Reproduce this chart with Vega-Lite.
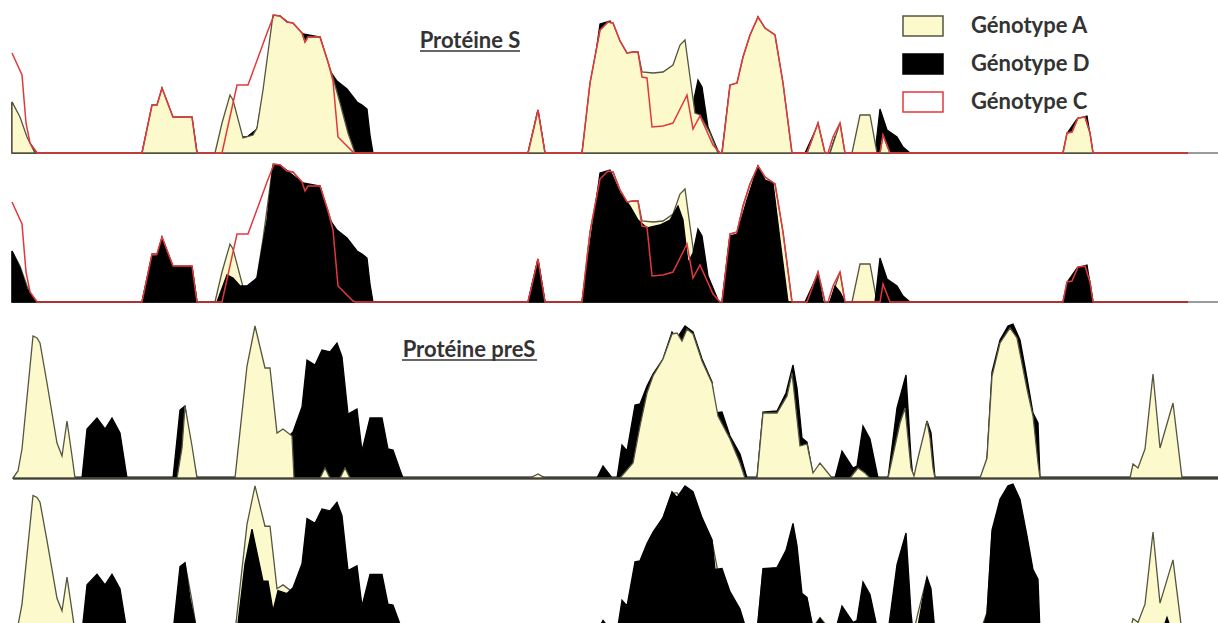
{
"$schema": "https://vega.github.io/schema/vega-lite/v6.json",
"padding": 0,
"background": "white",
"spacing": 0,
"datasets": {
"S_A": [{"pos":12,"v":51},{"pos":20,"v":36},{"pos":27,"v":16},{"pos":35,"v":0},{"pos":142,"v":0},{"pos":152,"v":48},{"pos":157,"v":48},{"pos":162,"v":65},{"pos":173,"v":36},{"pos":192,"v":36},{"pos":197,"v":0},{"pos":215,"v":0},{"pos":222,"v":30},{"pos":230,"v":58},{"pos":233,"v":53},{"pos":243,"v":15},{"pos":253,"v":18},{"pos":257,"v":25},{"pos":263,"v":63},{"pos":273,"v":138},{"pos":280,"v":137},{"pos":287,"v":131},{"pos":293,"v":130},{"pos":302,"v":120},{"pos":305,"v":111},{"pos":308,"v":116},{"pos":320,"v":116},{"pos":328,"v":91},{"pos":333,"v":75},{"pos":340,"v":50},{"pos":348,"v":20},{"pos":355,"v":0},{"pos":528,"v":0},{"pos":538,"v":43},{"pos":545,"v":0},{"pos":582,"v":0},{"pos":590,"v":70},{"pos":600,"v":123},{"pos":608,"v":131},{"pos":613,"v":130},{"pos":620,"v":112},{"pos":627,"v":100},{"pos":633,"v":101},{"pos":638,"v":101},{"pos":642,"v":81},{"pos":653,"v":80},{"pos":663,"v":81},{"pos":673,"v":88},{"pos":680,"v":108},{"pos":685,"v":113},{"pos":690,"v":76},{"pos":695,"v":40},{"pos":700,"v":38},{"pos":710,"v":20},{"pos":718,"v":0},{"pos":722,"v":0},{"pos":730,"v":68},{"pos":737,"v":70},{"pos":743,"v":96},{"pos":750,"v":118},{"pos":758,"v":136},{"pos":765,"v":125},{"pos":775,"v":118},{"pos":783,"v":70},{"pos":792,"v":0},{"pos":807,"v":0},{"pos":818,"v":30},{"pos":825,"v":0},{"pos":830,"v":0},{"pos":835,"v":15},{"pos":840,"v":30},{"pos":845,"v":0},{"pos":852,"v":0},{"pos":860,"v":38},{"pos":870,"v":38},{"pos":877,"v":0},{"pos":880,"v":0},{"pos":883,"v":18},{"pos":890,"v":0},{"pos":1063,"v":0},{"pos":1067,"v":20},{"pos":1072,"v":21},{"pos":1078,"v":35},{"pos":1085,"v":36},{"pos":1090,"v":20},{"pos":1093,"v":0},{"pos":1188,"v":0}],
"S_D": [{"pos":12,"v":51},{"pos":20,"v":34},{"pos":27,"v":13},{"pos":37,"v":0},{"pos":142,"v":0},{"pos":152,"v":46},{"pos":157,"v":46},{"pos":162,"v":64},{"pos":173,"v":35},{"pos":192,"v":35},{"pos":197,"v":0},{"pos":217,"v":0},{"pos":227,"v":27},{"pos":233,"v":24},{"pos":240,"v":16},{"pos":247,"v":16},{"pos":257,"v":24},{"pos":267,"v":82},{"pos":273,"v":136},{"pos":280,"v":137},{"pos":290,"v":129},{"pos":303,"v":119},{"pos":320,"v":116},{"pos":330,"v":82},{"pos":337,"v":72},{"pos":347,"v":64},{"pos":357,"v":51},{"pos":362,"v":48},{"pos":367,"v":44},{"pos":370,"v":18},{"pos":373,"v":0},{"pos":528,"v":0},{"pos":538,"v":43},{"pos":545,"v":0},{"pos":582,"v":0},{"pos":600,"v":129},{"pos":610,"v":132},{"pos":620,"v":109},{"pos":630,"v":96},{"pos":638,"v":82},{"pos":647,"v":74},{"pos":660,"v":77},{"pos":670,"v":82},{"pos":678,"v":96},{"pos":683,"v":82},{"pos":688,"v":39},{"pos":693,"v":49},{"pos":698,"v":73},{"pos":702,"v":66},{"pos":708,"v":26},{"pos":718,"v":2},{"pos":720,"v":0},{"pos":722,"v":0},{"pos":730,"v":66},{"pos":737,"v":68},{"pos":747,"v":102},{"pos":758,"v":136},{"pos":765,"v":122},{"pos":773,"v":119},{"pos":780,"v":62},{"pos":788,"v":0},{"pos":805,"v":0},{"pos":818,"v":28},{"pos":823,"v":0},{"pos":830,"v":0},{"pos":835,"v":16},{"pos":840,"v":10},{"pos":845,"v":0},{"pos":875,"v":0},{"pos":880,"v":44},{"pos":887,"v":23},{"pos":897,"v":16},{"pos":903,"v":6},{"pos":910,"v":0},{"pos":1063,"v":0},{"pos":1068,"v":21},{"pos":1077,"v":34},{"pos":1087,"v":37},{"pos":1093,"v":0},{"pos":1188,"v":0}],
"S_C": [{"pos":12,"v":100},{"pos":22,"v":78},{"pos":26,"v":30},{"pos":30,"v":10},{"pos":37,"v":0},{"pos":142,"v":0},{"pos":152,"v":48},{"pos":157,"v":48},{"pos":162,"v":65},{"pos":173,"v":36},{"pos":192,"v":36},{"pos":197,"v":0},{"pos":222,"v":0},{"pos":237,"v":68},{"pos":248,"v":68},{"pos":267,"v":120},{"pos":274,"v":138},{"pos":280,"v":137},{"pos":287,"v":131},{"pos":293,"v":130},{"pos":302,"v":120},{"pos":305,"v":111},{"pos":308,"v":116},{"pos":320,"v":116},{"pos":328,"v":91},{"pos":333,"v":72},{"pos":338,"v":16},{"pos":353,"v":1},{"pos":356,"v":0},{"pos":528,"v":0},{"pos":538,"v":43},{"pos":545,"v":0},{"pos":582,"v":0},{"pos":590,"v":70},{"pos":600,"v":123},{"pos":608,"v":131},{"pos":613,"v":130},{"pos":620,"v":112},{"pos":627,"v":100},{"pos":633,"v":101},{"pos":638,"v":101},{"pos":642,"v":76},{"pos":647,"v":75},{"pos":652,"v":26},{"pos":663,"v":27},{"pos":673,"v":30},{"pos":687,"v":58},{"pos":693,"v":24},{"pos":700,"v":37},{"pos":713,"v":8},{"pos":720,"v":0},{"pos":722,"v":0},{"pos":730,"v":68},{"pos":737,"v":70},{"pos":743,"v":96},{"pos":750,"v":118},{"pos":758,"v":136},{"pos":765,"v":125},{"pos":775,"v":118},{"pos":783,"v":70},{"pos":792,"v":0},{"pos":807,"v":0},{"pos":818,"v":30},{"pos":825,"v":0},{"pos":828,"v":0},{"pos":833,"v":16},{"pos":840,"v":30},{"pos":845,"v":0},{"pos":880,"v":0},{"pos":883,"v":18},{"pos":890,"v":0},{"pos":1063,"v":0},{"pos":1067,"v":20},{"pos":1072,"v":21},{"pos":1078,"v":35},{"pos":1085,"v":36},{"pos":1090,"v":20},{"pos":1093,"v":0},{"pos":1188,"v":0}],
"P_A": [{"pos":13,"v":0},{"pos":18,"v":7},{"pos":22,"v":29},{"pos":33,"v":142},{"pos":37,"v":140},{"pos":40,"v":135},{"pos":47,"v":95},{"pos":57,"v":35},{"pos":62,"v":22},{"pos":67,"v":57},{"pos":72,"v":22},{"pos":75,"v":0},{"pos":177,"v":0},{"pos":182,"v":30},{"pos":185,"v":72},{"pos":192,"v":32},{"pos":197,"v":0},{"pos":235,"v":0},{"pos":247,"v":112},{"pos":255,"v":152},{"pos":265,"v":110},{"pos":270,"v":110},{"pos":277,"v":45},{"pos":283,"v":49},{"pos":292,"v":42},{"pos":294,"v":0},{"pos":320,"v":0},{"pos":325,"v":10},{"pos":330,"v":0},{"pos":340,"v":0},{"pos":345,"v":10},{"pos":350,"v":0},{"pos":530,"v":0},{"pos":538,"v":4},{"pos":545,"v":0},{"pos":620,"v":0},{"pos":633,"v":15},{"pos":640,"v":52},{"pos":647,"v":85},{"pos":653,"v":102},{"pos":663,"v":119},{"pos":672,"v":144},{"pos":677,"v":145},{"pos":682,"v":137},{"pos":687,"v":149},{"pos":693,"v":144},{"pos":702,"v":117},{"pos":712,"v":95},{"pos":718,"v":62},{"pos":730,"v":39},{"pos":740,"v":15},{"pos":745,"v":0},{"pos":757,"v":0},{"pos":763,"v":65},{"pos":777,"v":65},{"pos":787,"v":82},{"pos":792,"v":105},{"pos":800,"v":32},{"pos":807,"v":34},{"pos":813,"v":5},{"pos":820,"v":15},{"pos":832,"v":0},{"pos":850,"v":0},{"pos":858,"v":10},{"pos":865,"v":5},{"pos":870,"v":0},{"pos":888,"v":0},{"pos":900,"v":55},{"pos":905,"v":70},{"pos":911,"v":10},{"pos":914,"v":2},{"pos":918,"v":20},{"pos":927,"v":57},{"pos":930,"v":40},{"pos":933,"v":10},{"pos":935,"v":0},{"pos":980,"v":0},{"pos":987,"v":20},{"pos":992,"v":102},{"pos":1000,"v":135},{"pos":1010,"v":150},{"pos":1017,"v":140},{"pos":1027,"v":89},{"pos":1033,"v":62},{"pos":1038,"v":15},{"pos":1040,"v":0},{"pos":1130,"v":0},{"pos":1133,"v":14},{"pos":1138,"v":10},{"pos":1145,"v":29},{"pos":1153,"v":104},{"pos":1160,"v":30},{"pos":1173,"v":75},{"pos":1182,"v":0},{"pos":1218,"v":0}],
"P_D": [{"pos":13,"v":0},{"pos":82,"v":0},{"pos":87,"v":49},{"pos":97,"v":60},{"pos":105,"v":49},{"pos":112,"v":60},{"pos":120,"v":45},{"pos":127,"v":0},{"pos":173,"v":0},{"pos":180,"v":68},{"pos":185,"v":72},{"pos":190,"v":35},{"pos":197,"v":0},{"pos":237,"v":0},{"pos":245,"v":71},{"pos":252,"v":107},{"pos":263,"v":53},{"pos":268,"v":53},{"pos":273,"v":22},{"pos":278,"v":43},{"pos":287,"v":40},{"pos":293,"v":46},{"pos":302,"v":71},{"pos":307,"v":118},{"pos":315,"v":113},{"pos":322,"v":128},{"pos":330,"v":126},{"pos":337,"v":135},{"pos":342,"v":121},{"pos":348,"v":64},{"pos":357,"v":69},{"pos":362,"v":27},{"pos":370,"v":60},{"pos":382,"v":60},{"pos":388,"v":29},{"pos":393,"v":28},{"pos":400,"v":8},{"pos":403,"v":0},{"pos":530,"v":0},{"pos":538,"v":3},{"pos":545,"v":0},{"pos":597,"v":0},{"pos":603,"v":12},{"pos":612,"v":0},{"pos":617,"v":0},{"pos":622,"v":33},{"pos":627,"v":27},{"pos":635,"v":73},{"pos":640,"v":74},{"pos":647,"v":92},{"pos":653,"v":104},{"pos":663,"v":119},{"pos":672,"v":146},{"pos":677,"v":140},{"pos":685,"v":152},{"pos":693,"v":146},{"pos":702,"v":119},{"pos":712,"v":96},{"pos":715,"v":65},{"pos":722,"v":66},{"pos":730,"v":42},{"pos":740,"v":24},{"pos":747,"v":0},{"pos":757,"v":0},{"pos":763,"v":66},{"pos":777,"v":67},{"pos":786,"v":85},{"pos":793,"v":113},{"pos":797,"v":90},{"pos":802,"v":40},{"pos":807,"v":36},{"pos":813,"v":3},{"pos":820,"v":14},{"pos":830,"v":0},{"pos":835,"v":0},{"pos":842,"v":27},{"pos":853,"v":10},{"pos":857,"v":12},{"pos":863,"v":52},{"pos":870,"v":39},{"pos":878,"v":0},{"pos":888,"v":0},{"pos":897,"v":70},{"pos":906,"v":103},{"pos":911,"v":20},{"pos":913,"v":0},{"pos":917,"v":0},{"pos":922,"v":30},{"pos":927,"v":57},{"pos":931,"v":45},{"pos":935,"v":0},{"pos":982,"v":0},{"pos":987,"v":19},{"pos":992,"v":106},{"pos":1000,"v":138},{"pos":1008,"v":152},{"pos":1013,"v":154},{"pos":1020,"v":138},{"pos":1027,"v":100},{"pos":1033,"v":65},{"pos":1038,"v":55},{"pos":1040,"v":0},{"pos":1162,"v":0},{"pos":1167,"v":15},{"pos":1172,"v":0},{"pos":1218,"v":0}]
},
"vconcat": [
{
"width": 1218, "height": 153,
"layer": [
{"data": {"values": [{"n": 1}]}, "mark": {"type": "rule", "color": "#7a7a7a", "strokeWidth": 1.5},
 "encoding": {"x": {"datum": 1185, "type": "quantitative", "scale": {"domain": [0, 1218], "nice": false, "zero": false}, "axis": null}, "x2": {"datum": 1218}, "y": {"datum": 0, "type": "quantitative", "scale": {"domain": [0, 153], "nice": false}, "axis": null}}},
{"data": {"name": "S_D"}, "mark": {"type": "area", "strokeWidth": 1.3},
 "encoding": {"x": {"field": "pos", "type": "quantitative", "scale": {"domain": [0, 1218], "nice": false, "zero": false}, "axis": null},
  "y": {"field": "v", "type": "quantitative", "scale": {"domain": [0, 153], "nice": false}, "axis": null},
  "fill": {"datum": "Génotype D", "type": "nominal", "scale": {"domain": ["Génotype A", "Génotype D", "Génotype C"], "range": ["#fcf9cd", "#000000", "#ffffff"]}},
  "stroke": {"datum": "Génotype D", "type": "nominal", "scale": {"domain": ["Génotype A", "Génotype D", "Génotype C"], "range": ["#55553f", "#000000", "#e2383c"]}}}},
{"data": {"name": "S_A"}, "mark": {"type": "area", "strokeWidth": 1.3},
 "encoding": {"x": {"field": "pos", "type": "quantitative"}, "y": {"field": "v", "type": "quantitative"},
  "fill": {"datum": "Génotype A", "type": "nominal"}, "stroke": {"datum": "Génotype A", "type": "nominal"}}},
{"data": {"name": "S_C"}, "mark": {"type": "line", "strokeWidth": 1.5},
 "encoding": {"x": {"field": "pos", "type": "quantitative"}, "y": {"field": "v", "type": "quantitative"}, "stroke": {"datum": "Génotype C", "type": "nominal"}}},
{"data": {"values": [{"n": 1}]}, "mark": {"type": "text", "font": "Lato", "fontWeight": "bold", "fontSize": 22, "color": "#333333"},
 "encoding": {"x": {"datum": 470, "type": "quantitative"}, "y": {"datum": 112, "type": "quantitative"}, "text": {"value": "Protéine S"}}},
{"data": {"values": [{"n": 1}]}, "mark": {"type": "rule", "color": "#333333", "strokeWidth": 1.6},
 "encoding": {"x": {"datum": 420, "type": "quantitative"}, "x2": {"datum": 520}, "y": {"datum": 102, "type": "quantitative"}}}
]
},
{
"width": 1218, "height": 146,
"layer": [
{"data": {"values": [{"n": 1}]}, "mark": {"type": "rule", "color": "#7a7a7a", "strokeWidth": 1.5},
 "encoding": {"x": {"datum": 1185, "type": "quantitative", "scale": {"domain": [0, 1218], "nice": false, "zero": false}, "axis": null}, "x2": {"datum": 1218}, "y": {"datum": 0, "type": "quantitative", "scale": {"domain": [0, 146], "nice": false}, "axis": null}}},
{"data": {"name": "S_A"}, "mark": {"type": "area", "strokeWidth": 1.3},
 "encoding": {"x": {"field": "pos", "type": "quantitative"}, "y": {"field": "v", "type": "quantitative"},
  "fill": {"datum": "Génotype A", "type": "nominal"}, "stroke": {"datum": "Génotype A", "type": "nominal"}}},
{"data": {"name": "S_D"}, "mark": {"type": "area", "strokeWidth": 1.3},
 "encoding": {"x": {"field": "pos", "type": "quantitative"}, "y": {"field": "v", "type": "quantitative"},
  "fill": {"datum": "Génotype D", "type": "nominal"}, "stroke": {"datum": "Génotype D", "type": "nominal"}}},
{"data": {"name": "S_C"}, "mark": {"type": "line", "strokeWidth": 1.5},
 "encoding": {"x": {"field": "pos", "type": "quantitative"}, "y": {"field": "v", "type": "quantitative"}, "stroke": {"datum": "Génotype C", "type": "nominal"}}}
]
},
{
"width": 1218, "height": 173,
"layer": [
{"data": {"values": [{"n": 1}]}, "mark": {"type": "rule", "color": "#000000", "strokeWidth": 3},
 "encoding": {"x": {"datum": 13, "type": "quantitative", "scale": {"domain": [0, 1218], "nice": false, "zero": false}, "axis": null}, "x2": {"datum": 1218}, "y": {"datum": 0, "type": "quantitative", "scale": {"domain": [0, 173], "nice": false}, "axis": null}}},
{"data": {"name": "P_D"}, "mark": {"type": "area", "strokeWidth": 1.3},
 "encoding": {"x": {"field": "pos", "type": "quantitative"}, "y": {"field": "v", "type": "quantitative"},
  "fill": {"datum": "Génotype D", "type": "nominal"}, "stroke": {"datum": "Génotype D", "type": "nominal"}}},
{"data": {"name": "P_A"}, "mark": {"type": "area", "strokeWidth": 1.3},
 "encoding": {"x": {"field": "pos", "type": "quantitative"}, "y": {"field": "v", "type": "quantitative"},
  "fill": {"datum": "Génotype A", "type": "nominal"}, "stroke": {"datum": "Génotype A", "type": "nominal"}}},
{"data": {"values": [{"n": 1}]}, "mark": {"type": "text", "font": "Lato", "fontWeight": "bold", "fontSize": 22, "color": "#333333"},
 "encoding": {"x": {"datum": 469, "type": "quantitative"}, "y": {"datum": 128, "type": "quantitative"}, "text": {"value": "Protéine preS"}}},
{"data": {"values": [{"n": 1}]}, "mark": {"type": "rule", "color": "#333333", "strokeWidth": 1.6},
 "encoding": {"x": {"datum": 402, "type": "quantitative"}, "x2": {"datum": 537}, "y": {"datum": 118, "type": "quantitative"}}}
]
},
{
"width": 1218, "height": 149,
"layer": [
{"data": {"values": [{"n": 1}]}, "mark": {"type": "rule", "color": "#444444", "strokeWidth": 1.5},
 "encoding": {"x": {"datum": 13, "type": "quantitative", "scale": {"domain": [0, 1218], "nice": false, "zero": false}, "axis": null}, "x2": {"datum": 1218}, "y": {"datum": 0, "type": "quantitative", "scale": {"domain": [0, 155], "nice": false}, "axis": null}}},
{"data": {"name": "P_A"}, "mark": {"type": "area", "strokeWidth": 1.3},
 "encoding": {"x": {"field": "pos", "type": "quantitative"}, "y": {"field": "v", "type": "quantitative"},
  "fill": {"datum": "Génotype A", "type": "nominal"}, "stroke": {"datum": "Génotype A", "type": "nominal"}}},
{"data": {"name": "P_D"}, "mark": {"type": "area", "strokeWidth": 1.3},
 "encoding": {"x": {"field": "pos", "type": "quantitative"}, "y": {"field": "v", "type": "quantitative"},
  "fill": {"datum": "Génotype D", "type": "nominal"}, "stroke": {"datum": "Génotype D", "type": "nominal"}}}
]
}
],
"config": {
"view": {"stroke": null},
"legend": {
"orient": "none", "legendX": 902, "legendY": 5, "title": null, "padding": 0,
"symbolType": "M-1,-0.5H1V0.5H-1Z", "symbolSize": 1600, "symbolStrokeWidth": 1.5,
"labelFont": "Lato", "labelFontWeight": "bold", "labelFontSize": 22, "labelColor": "#333333",
"labelOffset": 27, "rowPadding": 4, "symbolOffset": 0
}
}
}
